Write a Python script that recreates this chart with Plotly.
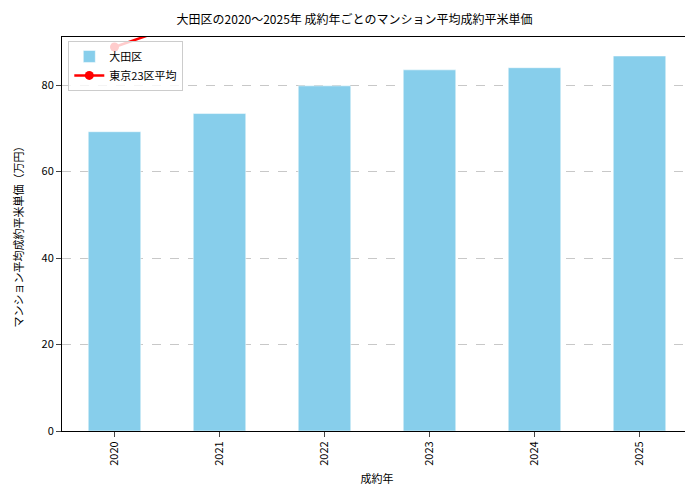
import plotly.graph_objects as go

years = ["2020", "2021", "2022", "2023", "2024", "2025"]
ota_price = [69.2, 73.4, 79.8, 83.5, 84.0, 86.7]
tokyo23_price = [88.8, 97.2, 105.0, 110.0, 112.0, 118.0]

fig = go.Figure()

fig.add_trace(go.Bar(
    x=years,
    y=ota_price,
    name="大田区",
    marker_color="#87ceeb",
    width=0.5
))

fig.add_trace(go.Scatter(
    x=years,
    y=tokyo23_price,
    name="東京23区平均",
    mode="lines+markers",
    line=dict(color="red", width=2.5),
    marker=dict(size=9, color="red")
))

fig.update_layout(
    template="plotly_white",
    width=693,
    height=493,
    margin=dict(l=54, r=9, t=29, b=70, autoexpand=False),
    font=dict(family="Noto Sans CJK JP", size=11, color="black"),
    title=dict(
        text="大田区の2020～2025年 成約年ごとのマンション平均成約平米単価",
        x=0.5,
        y=0.985,
        font=dict(size=12)
    ),
    legend=dict(
        x=0.01, y=0.99,
        bgcolor="rgba(255,255,255,0.8)",
        bordercolor="#cccccc",
        borderwidth=1,
        font=dict(size=11)
    ),
    xaxis=dict(
        title=dict(text="成約年", standoff=10, font=dict(size=11)),
        tickangle=-90,
        showgrid=False,
        showline=True,
        linecolor="black",
        mirror=True,
        ticks="outside",
        automargin=False
    ),
    yaxis=dict(
        title=dict(text="マンション平均成約平米単価（万円）", font=dict(size=11)),
        range=[0, 91.1],
        dtick=20,
        gridcolor="#c8c8c8",
        griddash="dash",
        showline=True,
        linecolor="black",
        mirror=True,
        ticks="outside",
        zeroline=False,
        automargin=False
    )
)

fig.write_html("out.html")
